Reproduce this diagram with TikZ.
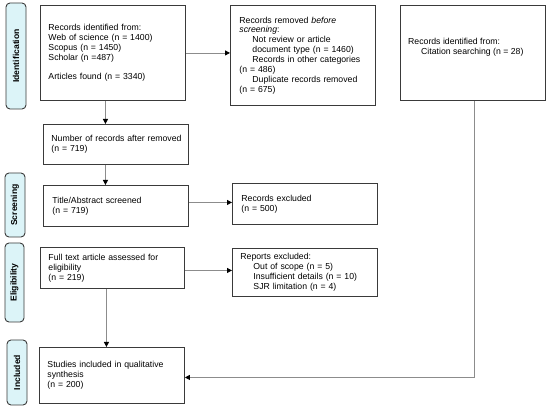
\documentclass[tikz,border=0pt]{standalone}
\usepackage{fontspec}
\setmainfont{Liberation Sans}
\usetikzlibrary{arrows.meta,calc}
\definecolor{boxline}{HTML}{3A3A3A}
\definecolor{conn}{HTML}{8C8C8C}
\definecolor{labfill}{HTML}{DCF4F8}
\tikzset{
  stagebox/.style={draw=boxline,line width=0.9pt,fill=labfill,rounded corners=4pt,rotate=90,
    font=\fontsize{8.6}{10}\selectfont\bfseries,inner sep=0pt},
  flowbox/.style={draw=boxline,line width=0.9pt,anchor=north west,align=left,inner ysep=0pt,
    font=\fontsize{8.7}{9.9}\selectfont},
  conn/.style={draw=conn,line width=0.8pt,-{Triangle[length=5pt,width=5pt,color=black]}},
}
\newcommand{\ind}{\hspace*{13pt}}
\newcommand{\tline}[1]{\mbox{#1}}
\begin{document}
\begin{tikzpicture}[x=1pt,y=-1pt]
\useasboundingbox (0,0) rectangle (550,411);
% stage labels
\node[stagebox,minimum width=106pt,minimum height=20pt] (lid) at (16,56) {Identification};
\node[stagebox,minimum width=64pt,minimum height=20pt] (lsc) at (15,205) {Screening};
\node[stagebox,minimum width=79pt,minimum height=19pt] (lel) at (14.5,282.5) {Eligibility};
\node[stagebox,minimum width=65pt,minimum height=20pt] (lin) at (17,372.5) {Included};
% boxes
\node[flowbox,inner xsep=8pt,text width=129pt,minimum height=95pt] (A) at (40,5)
 {\tline{Records identified from:}\\\tline{Web of science (n = 1400)}\\\tline{Scopus (n = 1450)}\\\tline{Scholar (n =487)}\\[9.9pt]\tline{Articles found (n = 3340)}};
\node[flowbox,inner xsep=9pt,text width=127pt,minimum height=100pt] (B) at (230,5)
 {\tline{Records removed \textit{before}}\\\tline{\textit{screening}:}\\\tline{\ind Not review or article}\\\tline{\ind document type (n = 1460)}\\\tline{\ind Records in other categories}\\\tline{(n = 486)}\\\tline{\ind Duplicate records removed}\\\tline{(n = 675)}};
\node[flowbox,minimum width=145pt,minimum height=95pt] (C) at (400,5) {};
\node[anchor=north west,align=left,inner sep=0pt,font=\fontsize{8.7}{9.9}\selectfont] (Ct) at (408,38)
 {Records identified from:\\\ind Citation searching (n = 28)};
\node[flowbox,inner xsep=8pt,text width=129pt,minimum height=40pt] (D) at (43,124)
 {\tline{Number of records after removed}\\\tline{(n = 719)}};
\node[flowbox,inner xsep=9pt,text width=127pt,minimum height=41pt] (E) at (43,185)
 {\tline{Title/Abstract screened}\\\tline{(n = 719)}};
\node[flowbox,inner xsep=9pt,text width=127pt,minimum height=41pt] (F) at (232,183)
 {\tline{Records excluded}\\\tline{(n = 500)}};
\node[flowbox,inner xsep=8pt,text width=128pt,minimum height=41pt] (G) at (40,247)
 {\tline{Full text article assessed for}\\\tline{eligibility}\\\tline{(n = 219)}};
\node[flowbox,inner xsep=8pt,text width=129pt,minimum height=48pt] (H) at (232,248)
 {\tline{Reports excluded:}\\\tline{\ind Out of scope (n = 5)}\\\tline{\ind Insufficient details (n = 10)}\\\tline{\ind SJR limitation (n = 4)}};
\node[flowbox,inner xsep=8pt,text width=129pt,minimum height=56pt] (I) at (39,347)
 {\tline{Studies included in qualitative}\\\tline{synthesis}\\\tline{(n = 200)}};
% connectors
\draw[conn] (A.east) -- (A.east -| B.west);
\draw[conn] ([xshift=-7.5pt]A.south) -- ([xshift=-7.5pt]A.south |- D.north);
\draw[conn] ([xshift=-10.5pt]D.south) -- ([xshift=-10.5pt]D.south |- E.north);
\draw[conn] ([yshift=3.5pt]E.east) -- ([yshift=3.5pt]E.east -| F.west);
\draw[conn] ([yshift=-2.5pt]G.east) -- ([yshift=-2.5pt]G.east -| H.west);
\draw[conn] ([xshift=-6pt]G.south) -- ([xshift=-6pt]G.south |- I.north);
\draw[conn] ([xshift=1.5pt]C.south) |- ([yshift=-2pt]I.east);
\end{tikzpicture}
\end{document}
